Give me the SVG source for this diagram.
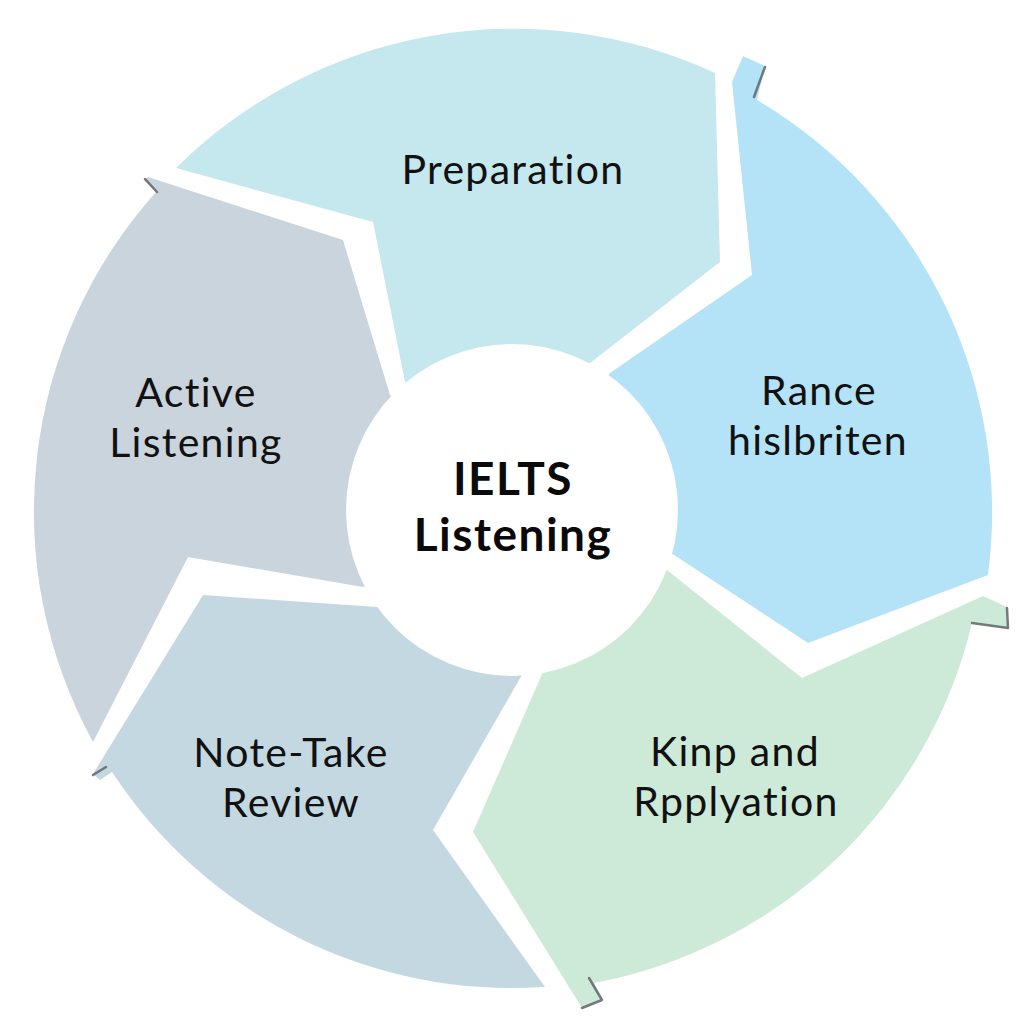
<svg xmlns="http://www.w3.org/2000/svg" width="1024" height="1024" viewBox="0 0 1024 1024">
<style>
.lbl{font-family:Lato,"Noto Sans","DejaVu Sans",sans-serif;font-size:41px;letter-spacing:1.3px;fill:#111;text-anchor:middle}
.ctr{font-family:Lato,"Noto Sans","DejaVu Sans",sans-serif;font-size:46px;letter-spacing:1.5px;font-weight:700;fill:#0a0a0a;text-anchor:middle}
.shadow{fill:none;stroke:#5f6468;stroke-width:2.5;stroke-linejoin:round;stroke-linecap:round;opacity:.85}
</style>
<rect width="1024" height="1024" fill="#ffffff"/>
<g id="preparation">
<path fill="#c5e7ee" d="M176,168 A479,479 0 0 1 715,73 L720,262 L590,363 L512,505 L405,382 L373,222 Z"/>
<text class="lbl" x="513" y="184">Preparation</text>
</g>
<g id="rance">
<path fill="#b4e3f7" d="M732,82 L743,56 L765,66 L757,100 A479,479 0 0 1 988,575 L808,643 L668,551 L515,510 L610,373 L752,275 Z"/>
<path class="shadow" d="M765,67 L754,97"/>
<text class="lbl" x="819" y="405">Rance</text>
<text class="lbl" x="818" y="455">hislbriten</text>
</g>
<g id="kind">
<path fill="#cde9d8" d="M667,570 L802,678 L983,596 L1007,607 L1008,628 L972,623 A479,479 0 0 1 594,983 L602,1000 L582,1008 L473,832 L543,672 L515,515 Z"/>
<path class="shadow" d="M1007,608 L1008,628 L972,623"/>
<path class="shadow" d="M589,978 L602,1000 L582,1008"/>
<text class="lbl" x="735" y="766">Kinp and</text>
<text class="lbl" x="736" y="816">Rpplyation</text>
</g>
<g id="note-take">
<path fill="#c4d8e2" d="M203,595 L377,607 L510,515 L523,673 L433,830 L545,987 A479,479 0 0 1 112,772 L100,780 L93,774 Z"/>
<path class="shadow" d="M93,775 L106,767"/>
<text class="lbl" x="291" y="767">Note-Take</text>
<text class="lbl" x="291" y="817">Review</text>
</g>
<g id="active">
<path fill="#c9d4dd" d="M148,177 L343,240 L390,395 L505,508 L363,587 L188,557 L93,742 A479,479 0 0 1 156,192 L144,180 Z"/>
<path class="shadow" d="M145,179 L157,192"/>
<text class="lbl" x="196" y="407">Active</text>
<text class="lbl" x="196" y="457">Listening</text>
</g>
<g id="center">
<circle cx="512" cy="510" r="166" fill="#ffffff"/>
<text class="ctr" x="513" y="495">IELTS</text>
<text class="ctr" x="513" y="551">Listening</text>
</g>
<g id="connectors"></g>
</svg>
